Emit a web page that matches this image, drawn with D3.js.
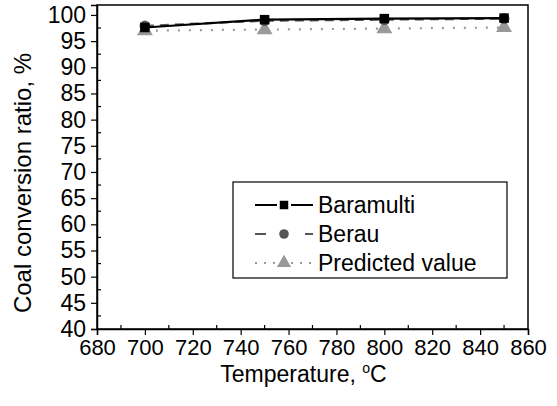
<!DOCTYPE html>
<html>
<head>
<meta charset="utf-8">
<script src="https://d3js.org/d3.v7.min.js"></script>
<style>
  body { margin: 0; background: #fff; }
  text { font-family: Arial, "Liberation Sans", sans-serif; fill: #000; }
</style>
</head>
<body>
<div id="chart"></div>
<script>
// data
var temps = [700, 750, 800, 850];
var baramulti = [97.6, 99.1, 99.3, 99.4];
var berau = [97.9, 98.9, 99.1, 99.3];
var predicted = [97.0, 97.2, 97.4, 97.6];
var xTicks = [680, 700, 720, 740, 760, 780, 800, 820, 840, 860];
var yTicks = [40, 45, 50, 55, 60, 65, 70, 75, 80, 85, 90, 95, 100];

var W = 557, H = 406;
var margin = {top: 5, right: 29, bottom: 77, left: 97},
    width = W - margin.left - margin.right,
    height = H - margin.top - margin.bottom;

var svg = d3.select("#chart")
  .append("svg")
    .attr("width", W)
    .attr("height", H)
  .append("g")
    .attr("transform", "translate(" + margin.left + "," + margin.top + ")");

var x = d3.scaleLinear().domain([680, 860]).range([0, width]);
var y = d3.scaleLinear().domain([40, 101.9]).range([height, 0]);

// frame
svg.append("rect")
    .attr("width", width)
    .attr("height", height)
    .attr("fill", "none")
    .attr("stroke", "#000")
    .attr("stroke-width", 1.5);

// x axis: major ticks out, minor ticks in
var xMinor = d3.range(690, 860, 20);
svg.append("g").selectAll("line").data(xMinor).enter().append("line")
    .attr("x1", d => x(d)).attr("x2", d => x(d))
    .attr("y1", height).attr("y2", height - 4)
    .attr("stroke", "#000").attr("stroke-width", 1.2);

var xAxis = svg.append("g")
    .attr("transform", "translate(0," + height + ")")
    .call(d3.axisBottom(x).tickValues(xTicks).tickSize(6).tickPadding(4).tickFormat(d3.format("d")));
xAxis.select(".domain").attr("stroke-width", 1.5);
xAxis.selectAll(".tick line").attr("stroke-width", 1.2);
xAxis.selectAll(".tick text")
    .style("font-size", "22px")
    .style("font-family", "Arial, 'Liberation Sans', sans-serif");

// y axis
var yMinor = d3.range(42.5, 101, 5);
svg.append("g").selectAll("line").data(yMinor).enter().append("line")
    .attr("x1", 0).attr("x2", 4)
    .attr("y1", d => y(d)).attr("y2", d => y(d))
    .attr("stroke", "#000").attr("stroke-width", 1.2);

var yAxis = svg.append("g")
    .call(d3.axisLeft(y).tickValues(yTicks).tickSize(6).tickPadding(5).tickFormat(d3.format("d")));
yAxis.select(".domain").attr("stroke-width", 1.5);
yAxis.selectAll(".tick line").attr("stroke-width", 1.2);
yAxis.selectAll(".tick text")
    .style("font-size", "23px")
    .style("font-family", "Arial, 'Liberation Sans', sans-serif");

// axis titles
svg.append("text")
    .attr("transform", "translate(" + (-66) + "," + (height / 2 + 16) + ") rotate(-90)")
    .attr("text-anchor", "middle")
    .style("font-size", "24px")
    .text("Coal conversion ratio, %");

var xt = svg.append("text")
    .attr("x", width / 2 - 9)
    .attr("y", height + 53)
    .attr("text-anchor", "middle")
    .style("font-size", "23px");
xt.append("tspan").text("Temperature, ");
xt.append("tspan").attr("dy", -9).style("font-size", "14px").text("o");
xt.append("tspan").attr("dy", 9).text("C");

// series
var series = [
  {name: "Baramulti", values: baramulti, color: "#000", dash: null, marker: "square"},
  {name: "Berau", values: berau, color: "#555", dash: "9,6", marker: "circle"},
  {name: "Predicted value", values: predicted, color: "#999", dash: "2,9", marker: "triangle"}
];

var line = d3.line()
    .x((d, i) => x(temps[i]))
    .y(d => y(d));

var symbolType = {square: d3.symbolSquare, circle: d3.symbolCircle, triangle: d3.symbolTriangle};
var symbolSize = {square: 90, circle: 90, triangle: 110};

// draw in reverse so Baramulti sits on top
series.slice().reverse().forEach(function(s) {
  svg.append("path")
      .datum(s.values)
      .attr("fill", "none")
      .attr("stroke", s.color)
      .attr("stroke-width", 2.2)
      .attr("stroke-dasharray", s.dash)
      .attr("d", line);
  svg.append("g").selectAll("path")
      .data(s.values)
      .enter().append("path")
      .attr("transform", (d, i) => "translate(" + x(temps[i]) + "," + y(d) + ")")
      .attr("d", d3.symbol().type(symbolType[s.marker]).size(symbolSize[s.marker]))
      .attr("fill", s.color);
});

// legend
var lg = svg.append("g").attr("transform", "translate(" + (233 - margin.left) + "," + (182 - margin.top) + ")");
lg.append("rect")
    .attr("width", 274)
    .attr("height", 96)
    .attr("fill", "#fff")
    .attr("stroke", "#000")
    .attr("stroke-width", 1.2);

series.forEach(function(s, i) {
  var yy = 23 + i * 29;
  lg.append("line")
      .attr("x1", 22).attr("x2", 80)
      .attr("y1", yy).attr("y2", yy)
      .attr("stroke", s.color)
      .attr("stroke-width", 2)
      .attr("stroke-dasharray", s.name === "Baramulti" ? null : (s.name === "Berau" ? "11,14" : "2,7"));
  lg.append("rect")
      .attr("x", 44).attr("y", yy - 7).attr("width", 14).attr("height", 14)
      .attr("fill", "#fff");
  lg.append("path")
      .attr("transform", "translate(51," + yy + ")")
      .attr("d", d3.symbol().type(symbolType[s.marker]).size(symbolSize[s.marker] * 0.8))
      .attr("fill", s.color);
  lg.append("text")
      .attr("x", 85)
      .attr("y", yy + 8)
      .style("font-size", "23px")
      .text(s.name);
});
</script>
</body>
</html>
